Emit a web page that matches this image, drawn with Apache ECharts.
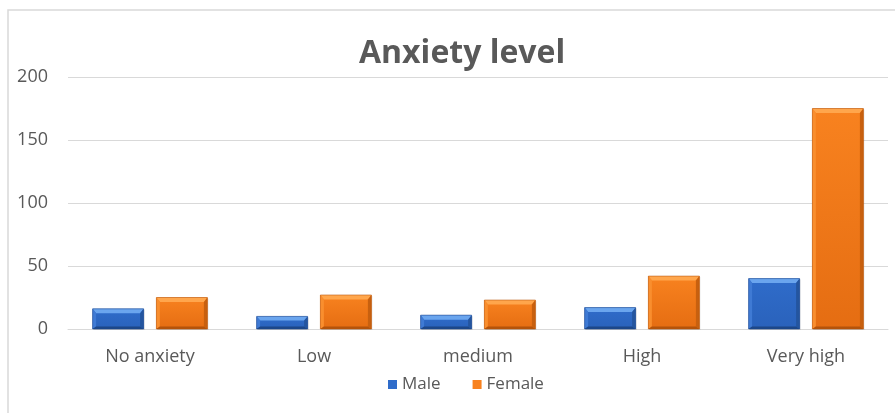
<!DOCTYPE html>
<html>
<head>
<meta charset="utf-8">
<script src="https://cdn.jsdelivr.net/npm/echarts@6/dist/echarts.min.js"></script>
<style>
  html, body { margin: 0; padding: 0; background: #ffffff; }
  #chart { width: 895px; height: 413px; }
</style>
</head>
<body>
<div id="chart"></div>
<script>
// Anxiety level by gender
const categories = ['No anxiety', 'Low', 'medium', 'High', 'Very high'];
const maleValues = [16, 10, 11, 17, 40];
const femaleValues = [25, 27, 23, 42, 175];
const yTicks = [0, 50, 100, 150, 200];

const FONT = '"Open Sans", "Liberation Sans", sans-serif';
const TEXT = '#595959';

// Bevelled bar shading per series
const palettes = [
  { top: '#6aa5ee', face: '#2f6cca', faceLow: '#2a62bb', left: '#3f7ad4', right: '#24559f', bottom: '#1d4788', edge: '#1f4a8f' },
  { top: '#ffa64c', face: '#f8821f', faceLow: '#e56d12', left: '#f98e2e', right: '#c8600f', bottom: '#b4530a', edge: '#b9560d' }
];

const BAR_RATIO = 0.311;  // bar width relative to category band
const GAP_RATIO = 0.25;   // gap between bars relative to bar width

function bevelBar(seriesIdx) {
  const p = palettes[seriesIdx];
  return function (params, api) {
    const cat = api.value(0);
    const val = api.value(1);
    const base = api.coord([cat, 0]);
    const top = api.coord([cat, val]);
    const band = api.size([1, 0])[0];
    const w = band * BAR_RATIO;
    const gap = w * GAP_RATIO;
    const off = gap / 2 + w / 2;
    const cx = base[0] + (seriesIdx === 0 ? -off : off);
    const x0 = cx - w / 2, x1 = cx + w / 2;
    const y0 = top[1], y1 = base[1];
    const h = y1 - y0;
    const bv = Math.min(4.5, h / 3);   // bevel depth
    const bs = 3.5;                    // side bevel width
    const ix0 = x0 + bs, ix1 = x1 - bs, iy0 = y0 + bv, iy1 = y1 - Math.min(2.5, h / 4);
    const grad = new echarts.graphic.LinearGradient(0, 0, 0, 1, [
      { offset: 0, color: p.face },
      { offset: 1, color: p.faceLow }
    ]);
    return {
      type: 'group',
      children: [
        { type: 'rect', shape: { x: x0 + 1, y: y0 + 1, width: w, height: h },
          style: { fill: 'rgba(0,0,0,0.12)' } },
        { type: 'rect', shape: { x: x0, y: y0, width: w, height: h },
          style: { fill: grad } },
        { type: 'polygon', shape: { points: [[x0, y0], [x1, y0], [ix1, iy0], [ix0, iy0]] },
          style: { fill: p.top } },
        { type: 'polygon', shape: { points: [[x0, y0], [ix0, iy0], [ix0, iy1], [x0, y1]] },
          style: { fill: p.left } },
        { type: 'polygon', shape: { points: [[x1, y0], [x1, y1], [ix1, iy1], [ix1, iy0]] },
          style: { fill: p.right } },
        { type: 'polygon', shape: { points: [[x0, y1], [ix0, iy1], [ix1, iy1], [x1, y1]] },
          style: { fill: p.bottom } },
        { type: 'rect', shape: { x: x0, y: y0, width: w, height: h },
          style: { fill: 'none', stroke: p.edge, lineWidth: 0.8, opacity: 0.7 } }
      ]
    };
  };
}

const chart = echarts.init(document.getElementById('chart'), null, { renderer: 'canvas' });

chart.setOption({
  animation: false,
  backgroundColor: '#ffffff',
  graphic: [
    { type: 'rect', shape: { x: 8, y: 10, width: 1000, height: 1000 },
      style: { fill: 'none', stroke: '#d9d9d9', lineWidth: 1.5 }, silent: true, z: -1 }
  ],
  title: {
    text: 'Anxiety level',
    left: 354,
    top: 33,
    textStyle: { fontFamily: FONT, fontWeight: 'bold', fontSize: 32, color: TEXT }
  },
  legend: {
    bottom: 15,
    left: 383,
    itemWidth: 9,
    itemHeight: 9,
    itemGap: 32,
    icon: 'rect',
    textStyle: { fontFamily: FONT, fontSize: 17, color: TEXT },
    data: ['Male', 'Female']
  },
  grid: { left: 68, right: 7, top: 77, bottom: 84 },
  xAxis: {
    type: 'category',
    data: categories,
    axisLine: { show: true, lineStyle: { color: '#d9d9d9', width: 1 } },
    axisTick: { show: false },
    axisLabel: { fontFamily: FONT, fontSize: 18, color: TEXT, margin: 19 }
  },
  yAxis: {
    type: 'value',
    min: yTicks[0],
    max: yTicks[yTicks.length - 1],
    interval: yTicks[1] - yTicks[0],
    axisLine: { show: false },
    axisTick: { show: false },
    splitLine: { lineStyle: { color: '#d9d9d9', width: 1 } },
    axisLabel: { fontFamily: FONT, fontSize: 18, color: TEXT, margin: 20 }
  },
  series: [
    {
      name: 'Male',
      type: 'custom',
      itemStyle: { color: palettes[0].face },
      renderItem: bevelBar(0),
      encode: { x: 0, y: 1 },
      data: maleValues.map((v, i) => [i, v])
    },
    {
      name: 'Female',
      type: 'custom',
      itemStyle: { color: palettes[1].face },
      renderItem: bevelBar(1),
      encode: { x: 0, y: 1 },
      data: femaleValues.map((v, i) => [i, v])
    }
  ]
});
</script>
</body>
</html>
